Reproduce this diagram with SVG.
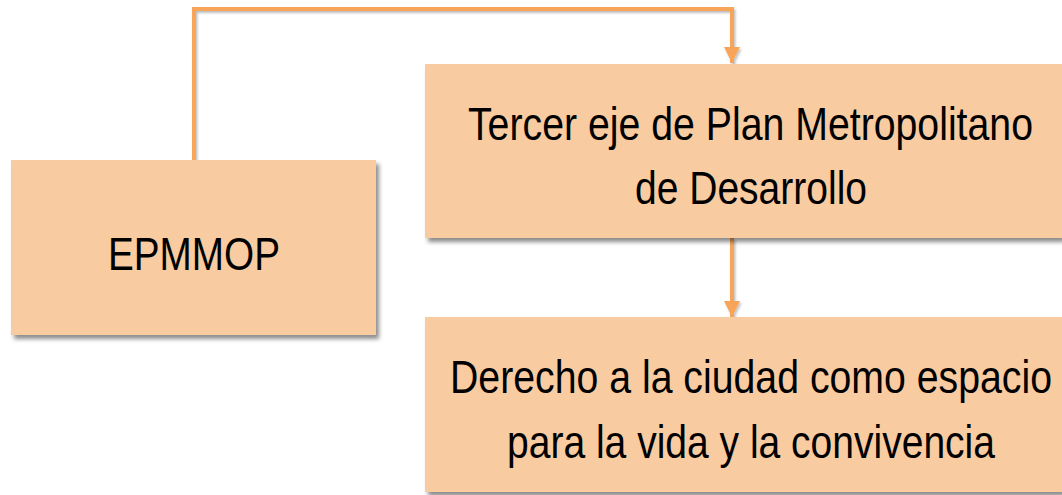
<svg xmlns="http://www.w3.org/2000/svg" width="1062" height="495" viewBox="0 0 1062 495">
<style>
.box{fill:#F9CBA1;filter:url(#sh)}
.lbl{font-family:"Liberation Sans",Arial,sans-serif;font-size:47px;fill:#000;text-anchor:middle}
.lbl2{font-family:"Liberation Sans",Arial,sans-serif;font-size:40px;fill:#000;text-anchor:middle}
.con{fill:none;stroke:#F8A55A;stroke-width:4;filter:url(#lsh)}
</style>
<defs>
<filter id="sh" x="-10%" y="-10%" width="120%" height="130%">
<feDropShadow dx="3" dy="4" stdDeviation="2" flood-color="#000" flood-opacity="0.45"/>
</filter>
<filter id="lsh" filterUnits="userSpaceOnUse" x="0" y="0" width="1062" height="495">
<feDropShadow dx="1.5" dy="2" stdDeviation="1" flood-color="#000" flood-opacity="0.25"/>
</filter>
<marker id="ah" viewBox="0 0 10 10" refX="10" refY="5" markerWidth="4" markerHeight="4" markerUnits="strokeWidth" orient="auto">
<path d="M0,0 L10,5 L0,10 Z" fill="#F8A55A"/>
</marker>
</defs>
<g id="connectors">
<path class="con" d="M194,160 V9 H732 V63" marker-end="url(#ah)"/>
<path class="con" d="M732,238 V317" marker-end="url(#ah)"/>
</g>
<g id="epmmop">
<rect class="box" x="11" y="160" width="365" height="175"/>
<text class="lbl" x="194" y="270" textLength="172" lengthAdjust="spacingAndGlyphs">EPMMOP</text>
</g>
<g id="tercer-eje">
<rect class="box" x="425" y="64" width="637" height="174"/>
<text class="lbl2" x="750.5" y="119.15" transform="scale(1,1.175)" textLength="565" lengthAdjust="spacingAndGlyphs">Tercer eje de Plan Metropolitano</text>
<text class="lbl" x="751" y="204" textLength="232" lengthAdjust="spacingAndGlyphs">de Desarrollo</text>
</g>
<g id="derecho">
<rect class="box" x="425" y="317" width="637" height="175"/>
<text class="lbl2" x="751" y="334.47" transform="scale(1,1.175)" textLength="602" lengthAdjust="spacingAndGlyphs">Derecho a la ciudad como espacio</text>
<text class="lbl2" x="751" y="389.79" transform="scale(1,1.175)" textLength="488" lengthAdjust="spacingAndGlyphs">para la vida y la convivencia</text>
</g>
</svg>
